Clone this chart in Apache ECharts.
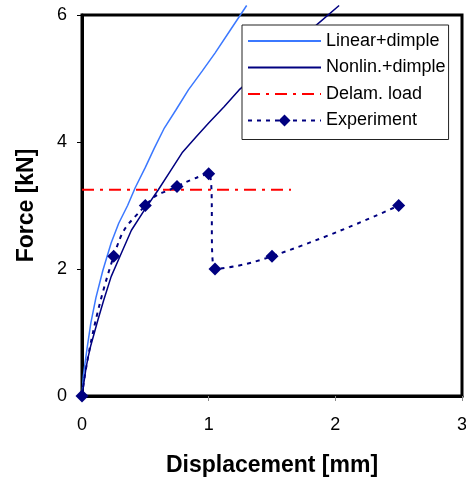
<!DOCTYPE html>
<html>
<head>
<meta charset="utf-8">
<script src="https://cdn.jsdelivr.net/npm/echarts@6/dist/echarts.min.js"></script>
<style>html,body{margin:0;padding:0;background:#fff}#c{width:466px;height:480px}</style>
</head>
<body>
<div id="c"></div>
<script>
var xTicks = [0, 1, 2, 3];
var yTicks = [0, 2, 4, 6];
var linearDimple = [[0,0],[0.01,0.3],[0.02,0.46],[0.04,0.75],[0.07,1.15],[0.11,1.55],[0.165,1.98],[0.23,2.41],[0.29,2.72],[0.36,3.0],[0.42,3.28],[0.5,3.6],[0.57,3.9],[0.65,4.22],[0.74,4.5],[0.84,4.82],[0.95,5.12],[1.05,5.40],[1.17,5.76],[1.3,6.15]];
var nonlinDimple = [[0,0],[0.01,0.14],[0.03,0.42],[0.047,0.6],[0.07,0.8],[0.126,1.2],[0.17,1.5],[0.23,1.88],[0.3,2.2],[0.39,2.61],[0.5,2.95],[0.6,3.24],[0.7,3.55],[0.79,3.83],[0.9,4.08],[1.0,4.3],[1.12,4.55],[1.24,4.82],[1.4,5.1],[1.55,5.35],[1.7,5.6],[1.85,5.84],[2.03,6.15]];
var delamLoad = [[0,3.25],[1.65,3.25]];
var experiment = [[0,0],[0.25,2.2],[0.5,3.0],[0.75,3.3],[1.0,3.5],[1.05,2.0],[1.5,2.2],[2.5,3.0]];
var names = ['Linear+dimple','Nonlin.+dimple','Delam. load','Experiment'];

var FF = '"Liberation Sans", Arial, sans-serif';
var chart = echarts.init(document.getElementById('c'), null, {renderer:'canvas'});
chart.setOption({
  animation: false,
  backgroundColor: '#fff',
  textStyle: {fontFamily: FF},
  grid: {left: 82, top: 15, right: 4, bottom: 84, show: true, borderColor: '#000', borderWidth: 3,
         containLabel: false, outerBoundsMode: 'none'},
  legend: {
    orient: 'vertical', left: 242, top: 25,
    padding: [7, 3, 10, 5], itemGap: 8.5, itemWidth: 73, itemHeight: 15,
    backgroundColor: '#fff', borderColor: '#222', borderWidth: 1,
    textStyle: {fontSize: 18, color: '#000', fontFamily: FF},
    data: [
      {name: names[0], itemStyle: {opacity: 0}},
      {name: names[1], itemStyle: {opacity: 0}},
      {name: names[2], itemStyle: {opacity: 0}},
      {name: names[3]}
    ]
  },
  xAxis: {
    type: 'value', min: xTicks[0], max: xTicks[xTicks.length-1], interval: 1,
    name: 'Displacement [mm]', nameLocation: 'middle', nameGap: 58,
    nameTextStyle: {fontSize: 23, fontWeight: 'bold', color: '#000', fontFamily: FF},
    axisLine: {lineStyle: {color: '#000', width: 3}},
    axisTick: {show: true, length: 5, lineStyle: {color: '#888'}},
    axisLabel: {fontSize: 18, color: '#000', margin: 20, fontFamily: FF},
    splitLine: {show: false}
  },
  yAxis: {
    type: 'value', min: yTicks[0], max: yTicks[yTicks.length-1], interval: 2,
    name: 'Force [kN]', nameLocation: 'middle', nameGap: 44,
    nameTextStyle: {fontSize: 23, fontWeight: 'bold', color: '#000', fontFamily: FF},
    axisLine: {lineStyle: {color: '#000', width: 3}},
    axisTick: {show: true, length: 5, lineStyle: {color: '#000'}},
    axisLabel: {fontSize: 18, color: '#000', margin: 15, fontFamily: FF},
    splitLine: {show: false}
  },
  series: [
    {name: names[0], type: 'line', data: linearDimple, showSymbol: false, symbol: 'none', clip: false,
     lineStyle: {color: '#3b78ff', width: 1.5}, itemStyle: {color: '#3b78ff'}},
    {name: names[1], type: 'line', data: nonlinDimple, showSymbol: false, symbol: 'none', clip: false,
     lineStyle: {color: '#000080', width: 1.5}, itemStyle: {color: '#000080'}},
    {name: names[2], type: 'line', data: delamLoad, showSymbol: false, symbol: 'none',
     lineStyle: {color: '#ff0000', width: 2, type: [12, 6, 3, 6]}, itemStyle: {color: '#ff0000'}},
    {name: names[3], type: 'line', data: experiment, smooth: 0.55, symbol: 'diamond', symbolSize: 13,
     lineStyle: {color: '#000080', width: 2, type: [4, 5]}, itemStyle: {color: '#000080'}}
  ]
});
</script>
</body>
</html>
